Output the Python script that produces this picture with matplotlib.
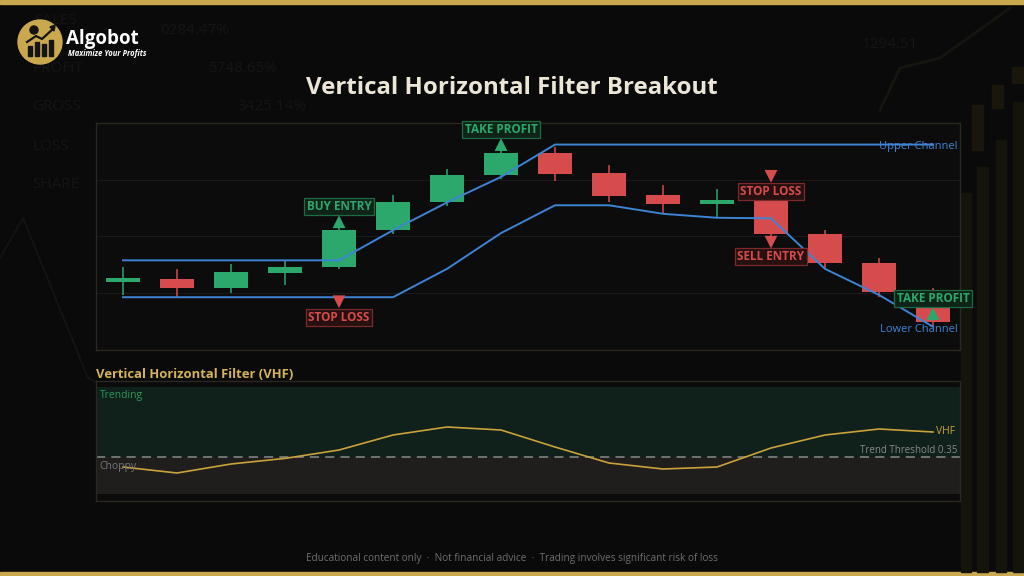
import matplotlib
matplotlib.use('Agg')
import matplotlib.pyplot as plt
from matplotlib.patches import Circle, Rectangle, Polygon

plt.rcParams['font.family'] = ['Open Sans', 'DejaVu Sans']

# price data (16 bars)
opens = [111.9, 112.5, 111.0, 113.6, 114.6, 121.1, 126.1, 130.8, 134.8, 131.2, 127.3, 125.8, 126.6, 120.4, 115.4, 110.3]
highs = [114.7, 114.3, 115.1, 115.8, 121.5, 127.3, 131.9, 135.2, 135.8, 132.6, 129.1, 128.4, 127.1, 121.1, 116.2, 111.0]
lows = [109.7, 109.3, 110.1, 111.5, 114.2, 120.4, 125.4, 130.1, 129.8, 126.0, 123.9, 123.3, 119.9, 114.3, 109.4, 104.1]
closes = [112.6, 111.0, 113.7, 114.7, 121.1, 126.1, 130.8, 134.8, 131.1, 127.2, 125.8, 126.5, 120.4, 115.4, 110.3, 105.0]

upper_channel = [115.8, 115.8, 115.8, 115.8, 115.8, 121.1, 126.0, 130.5, 136.2, 136.2, 136.2, 136.2, 136.2, 136.2, 136.2, 136.2]
lower_channel = [109.3, 109.3, 109.3, 109.3, 109.3, 109.3, 114.3, 120.6, 125.5, 125.5, 124.0, 123.3, 123.2, 114.3, 109.7, 104.1]

vhf = [0.30, 0.27, 0.315, 0.343, 0.385, 0.46, 0.50, 0.485, 0.40, 0.32, 0.29, 0.30, 0.395, 0.46, 0.49, 0.475]
vhf_threshold = 0.35

# signals: bar index, marker price, label price, text, kind
sig_idx = [4, 4, 7, 12, 12, 15]
sig_marker = [108.5, 122.6, 136.2, 130.6, 119.0, 106.4]
sig_label = [105.7, 125.3, 138.9, 127.9, 116.5, 109.1]
sig_text = ['STOP LOSS', 'BUY ENTRY', 'TAKE PROFIT', 'STOP LOSS', 'SELL ENTRY', 'TAKE PROFIT']
sig_dir = ['down', 'up', 'up', 'down', 'down', 'up']
sig_good = [False, True, True, False, False, True]

GREEN = '#2ca86d'
RED = '#d64c4c'
BLUE = '#3d84d4'
GOLD = '#c9a84e'
BG = '#0a0a0a'

fig = plt.figure(figsize=(10.24, 5.76), dpi=100, facecolor=BG)

# background layer in pixel coordinates
bg = fig.add_axes([0, 0, 1, 1], zorder=0)
bg.set_xlim(0, 1024)
bg.set_ylim(576, 0)
bg.axis('off')
bg.add_patch(Rectangle((0, 0), 1024, 4, color=GOLD))
bg.add_patch(Rectangle((0, 572), 1024, 4, color=GOLD))

faint = '#151515'
for txt, x, y in [('SALES', 34, 21), ('PROFIT', 32, 69), ('GROSS', 32, 107), ('LOSS', 32, 146), ('SHARE', 32, 184)]:
    bg.text(x, y, txt, color=faint, fontsize=11, va='center', zorder=0)
for txt, x, y in [('0284.47%', 160, 30), ('5748.65%', 208, 69), ('3425.14%', 237, 107), ('1294.51', 862, 45)]:
    bg.text(x, y, txt, color=faint, fontsize=11, va='center', zorder=0)
bg.plot([0, 23, 88, 98], [258, 218, 378, 383], color='#151515', lw=1.2)
bg.plot([880, 900, 940, 1010], [110, 68, 58, 8], color='#17150f', lw=2)
for x, top, w in [(961, 193, 10), (977, 167, 11), (996, 140, 10), (1013, 102, 11)]:
    bg.add_patch(Rectangle((x, top), w, 572 - top, color='#15140a'))
for x, top, h in [(972, 105, 45), (992, 85, 23), (1012, 67, 16)]:
    bg.add_patch(Rectangle((x, top), 11, h, color='#1a160b'))

# logo
bg.add_patch(Circle((40, 42), 22, color=GOLD, zorder=2))
for bx, bh in [(30, 10), (37, 14), (44, 12), (51, 16)]:
    bg.add_patch(Rectangle((bx - 2, 56 - bh), 4, bh, color='#141414', zorder=3))
bg.plot([27, 36, 42, 54], [42, 36, 39, 28], color='#141414', lw=1.6, zorder=3)
bg.add_patch(Polygon([[55, 25], [50, 27], [54, 31]], color='#141414', zorder=3))
bg.add_patch(Circle((34, 30), 4, color='#141414', zorder=3))
bg.text(66, 39, 'Algobot', color='white', fontsize=13.5, fontweight='bold', va='center', zorder=3)
bg.text(68, 53, 'Maximize Your Profits', color='white', fontsize=5.5, fontstyle='italic',
        fontweight='bold', va='center', zorder=3)

# title
fig.text(0.5, 1 - 88 / 576, 'Vertical Horizontal Filter Breakout', ha='center', va='center',
         color='#ece6d6', fontsize=17.3, fontweight='bold')

# main price chart
ax = fig.add_axes([96 / 1024, 1 - 350 / 576, 864 / 1024, 227 / 576], zorder=2)
ax.set_facecolor('#0c0c0c')
idx = list(range(len(opens)))
for i in idx:
    col = GREEN if closes[i] >= opens[i] else RED
    ax.vlines(i, lows[i], highs[i], color=col, lw=1.1, zorder=2)
    ax.bar(i, abs(closes[i] - opens[i]), bottom=min(opens[i], closes[i]), width=0.62,
           color=col, edgecolor='none', zorder=3)
ax.plot(idx, upper_channel, color=BLUE, lw=1.4, zorder=4)
ax.plot(idx, lower_channel, color=BLUE, lw=1.4, zorder=4)
ax.text(15.45, upper_channel[-1] - 0.3, 'Upper Channel', color=BLUE, fontsize=8, ha='right', va='center', zorder=5)
ax.text(15.45, lower_channel[-1] - 0.4, 'Lower Channel', color=BLUE, fontsize=8, ha='right', va='center', zorder=5)

for i, mp, lp, t, d, good in zip(sig_idx, sig_marker, sig_label, sig_text, sig_dir, sig_good):
    col = GREEN if good else RED
    fc = '#0f2418' if good else '#261010'
    ec = '#1e6a45' if good else '#7a2a2a'
    ax.scatter(i, mp, marker='^' if d == 'up' else 'v', s=85, color=col, edgecolor='none', zorder=6)
    ax.text(i, lp, t, color=col, fontsize=8.5, fontweight='bold', ha='center', va='center', zorder=7,
            bbox=dict(boxstyle='square,pad=0.18', fc=fc, ec=ec, lw=0.9))

ax.set_xlim(-0.5, 15.5)
ax.set_ylim(100, 140)
ax.set_yticks([110, 120, 130])
ax.set_xticks([])
ax.grid(axis='y', color='#1a1a1a', lw=0.8)
ax.tick_params(length=0, labelleft=False)
for s in ax.spines.values():
    s.set_color('#2b2820')
    s.set_linewidth(1)

# VHF panel
fig.text(96 / 1024, 1 - 374 / 576, 'Vertical Horizontal Filter (VHF)', color='#d4b25a',
         fontsize=9.4, fontweight='bold', va='center')
ax2 = fig.add_axes([96 / 1024, 1 - 501 / 576, 864 / 1024, 120 / 576], zorder=2)
ax2.set_facecolor('#0b0b0b')
ax2.axhspan(vhf_threshold, 0.70, color='#10201a', lw=0)
ax2.axhspan(0.165, vhf_threshold, color='#201e1c', lw=0)
ax2.axhline(vhf_threshold, color='#8a8a8a', lw=1.1, dashes=(6, 4))
ax2.plot(idx, vhf, color='#c9a23a', lw=1.2, zorder=3)
ax2.text(idx[-1] + 0.05, vhf[-1], 'VHF', color='#c9a23a', fontsize=7.5, va='center', ha='left')
ax2.text(15.45, vhf_threshold + 0.005, 'Trend Threshold 0.35', color='#8a8a8a', fontsize=7,
         ha='right', va='bottom')
ax2.text(-0.43, 0.685, 'Trending', color='#2a9a5e', fontsize=7.5, va='top')
ax2.text(-0.43, 0.30, 'Choppy', color='#777777', fontsize=7.5, va='center')
ax2.set_xlim(-0.5, 15.5)
ax2.set_ylim(0.13, 0.73)
ax2.set_xticks([])
ax2.set_yticks([])
for s in ax2.spines.values():
    s.set_color('#2b2820')
    s.set_linewidth(1)

fig.text(0.5, 1 - 558 / 576,
         'Educational content only  \u00b7  Not financial advice  \u00b7  Trading involves significant risk of loss',
         ha='center', va='center', color='#6e6e6e', fontsize=7.2)

fig.savefig('out.png', dpi=100, facecolor=BG)
